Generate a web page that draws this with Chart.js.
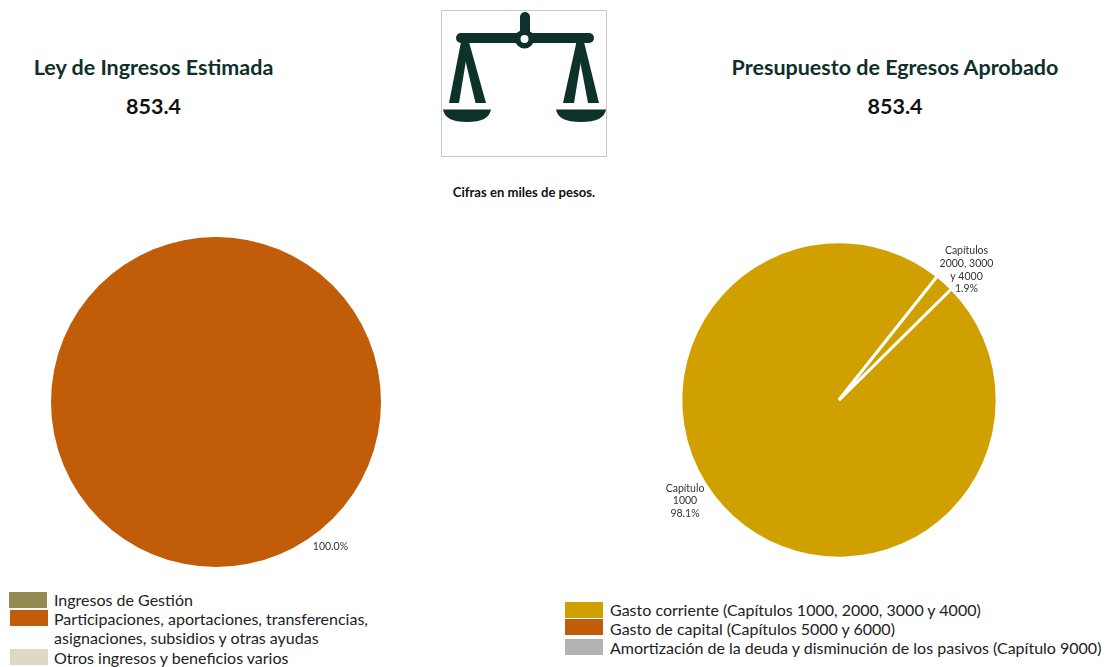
<!DOCTYPE html>
<html lang="es">
<head>
<meta charset="utf-8">
<script src="https://cdn.jsdelivr.net/npm/chart.js@4"></script>
<style>
html,body{margin:0;padding:0;background:#fff;width:1107px;height:667px;overflow:hidden;font-family:Lato,sans-serif}
.abs{position:absolute;white-space:nowrap}
.title{font-size:21.5px;font-weight:700;color:#0f2f2b;transform:translateX(-50%);line-height:26px}
.num{font-size:21.5px;font-weight:700;color:#111;transform:translateX(-50%);line-height:26px}
.note{font-size:13.1px;font-weight:700;color:#111;transform:translateX(-50%);line-height:16px}
.tile{position:absolute;width:38px;height:16px}
.lg{position:absolute;font-size:16px;line-height:19.3px;color:#222;white-space:nowrap}
canvas{position:absolute;display:block}
</style>
</head>
<body>
<div class="abs title" style="left:153.5px;top:54px">Ley de Ingresos Estimada</div>
<div class="abs num" style="left:153.5px;top:93px">853.4</div>
<div class="abs title" style="left:895px;top:54px">Presupuesto de Egresos Aprobado</div>
<div class="abs num" style="left:895px;top:93px">853.4</div>
<div class="abs note" style="left:524px;top:184px">Cifras en miles de pesos.</div>

<svg class="abs" style="left:441px;top:10px" width="166" height="147" viewBox="441 10 166 147">
  <defs><filter id="soft" x="-5%" y="-5%" width="110%" height="110%"><feGaussianBlur stdDeviation="0.45"/></filter></defs>
  <rect x="441.5" y="10.5" width="165" height="146" fill="#fff" stroke="#c8c8c8"/>
  <g filter="url(#soft)">
    <g fill="#0c302b" stroke="none">
      <rect x="520" y="12" width="10" height="24" rx="5"/>
      <rect x="456" y="33" width="138" height="10" rx="5"/>
      <circle cx="524.5" cy="39" r="9.5"/>
      <path d="M443 109.5H491Q489 122 467 122Q445 122 443 109.5Z"/>
      <path d="M556 109.5H606Q604 122 581 122Q558 122 556 109.5Z"/>
      <path d="M461 42L469 42L459 103L449 103Z"/>
      <path d="M461 42L469 42L486 103L475.5 103Z"/>
      <path d="M576.5 42L584 42L574 103L563 103Z"/>
      <path d="M576.5 42L584 42L599 103L588 103Z"/>
    </g>
    <circle cx="524.5" cy="39" r="4" fill="#fff"/>
  </g>
</svg>

<canvas id="left" width="432" height="360" style="left:0;top:222px"></canvas>
<canvas id="right" width="400" height="360" style="left:639px;top:220px"></canvas>

<div id="legendLeft"></div>
<div id="legendRight"></div>

<script>
// Data (miles de pesos)
const ingresosCategories = ["Ingresos de Gestión", "Participaciones, aportaciones, transferencias,\nasignaciones, subsidios y otras ayudas", "Otros ingresos y beneficios varios"];
const ingresosValues = [0, 853.4, 0];
const ingresosColors = ["#948B54", "#C15C08", "#DDD9C3"];

const egresosSlices = ["Capítulo\n1000", "Capítulos\n2000, 3000\ny 4000"];
const egresosValues = [837.2, 16.2];
const egresosSliceColors = ["#D0A000", "#D0A000"];

const egresosCategories = ["Gasto corriente (Capítulos 1000, 2000, 3000 y 4000)", "Gasto de capital (Capítulos 5000 y 6000)", "Amortización de la deuda y disminución de los pasivos (Capítulo 9000)"];
const egresosColors = ["#D0A000", "#C15C08", "#B2B2B2"];

const outsideLabels = {
  id: 'outsideLabels',
  afterDatasetsDraw(chart, args, opts) {
    const ctx = chart.ctx;
    const meta = chart.getDatasetMeta(0);
    const values = chart.data.datasets[0].data;
    const total = values.reduce((a, b) => a + b, 0);
    ctx.save();
    ctx.font = '10.5px Lato, sans-serif';
    ctx.fillStyle = '#333';
    ctx.textAlign = 'center';
    ctx.textBaseline = 'middle';
    const lh = 12.6;
    opts.offsets.forEach((off, i) => {
      if (!off) return;
      const arc = meta.data[i];
      const name = chart.data.labels[i];
      const pct = (values[i] / total * 100).toFixed(1) + '%';
      const lines = (opts.showNames ? name.split('\n') : []).concat(pct);
      lines.forEach((t, k) => {
        ctx.fillText(t, arc.x + off[0], arc.y + off[1] + (k - (lines.length - 1) / 2) * lh);
      });
    });
    ctx.restore();
  }
};

const baseOpts = {
  responsive: false,
  animation: false,
  events: [],
  layout: { padding: 0 }
};

new Chart(document.getElementById('left'), {
  type: 'pie',
  data: {
    labels: ingresosCategories,
    datasets: [{ data: ingresosValues, backgroundColor: ingresosColors, borderWidth: 0 }]
  },
  options: {
    ...baseOpts,
    radius: 165,
    plugins: {
      legend: { display: false }, tooltip: { enabled: false },
      outsideLabels: { showNames: false, offsets: [null, [114.5, 145], null] }
    }
  },
  plugins: [outsideLabels]
});

new Chart(document.getElementById('right'), {
  type: 'pie',
  data: {
    labels: egresosSlices,
    datasets: [{ data: egresosValues, backgroundColor: egresosSliceColors, borderColor: '#fff', borderWidth: 3 }]
  },
  options: {
    ...baseOpts,
    radius: 158.2,
    rotation: 45.3,
    plugins: {
      legend: { display: false }, tooltip: { enabled: false },
      outsideLabels: { showNames: true, offsets: [[-154, 101], [127.5, -130]] }
    }
  },
  plugins: [outsideLabels]
});

function legend(hostId, names, colors, tiles, textX, textTops) {
  const host = document.getElementById(hostId);
  names.forEach((n, i) => {
    const t = document.createElement('div');
    t.className = 'tile';
    t.style.left = tiles[i][0] + 'px';
    t.style.top = tiles[i][1] + 'px';
    t.style.background = colors[i];
    host.appendChild(t);
    const l = document.createElement('div');
    l.className = 'lg';
    l.style.left = textX + 'px';
    l.style.top = textTops[i] + 'px';
    l.innerHTML = n.replace('\n', '<br>');
    host.appendChild(l);
  });
}
legend('legendLeft', ingresosCategories, ingresosColors, [[9,592],[10,610],[10,649]], 54, [590, 609, 648]);
legend('legendRight', egresosCategories, egresosColors, [[565,602],[565,619],[565,639]], 610, [600, 619, 638]);
</script>
</body>
</html>
